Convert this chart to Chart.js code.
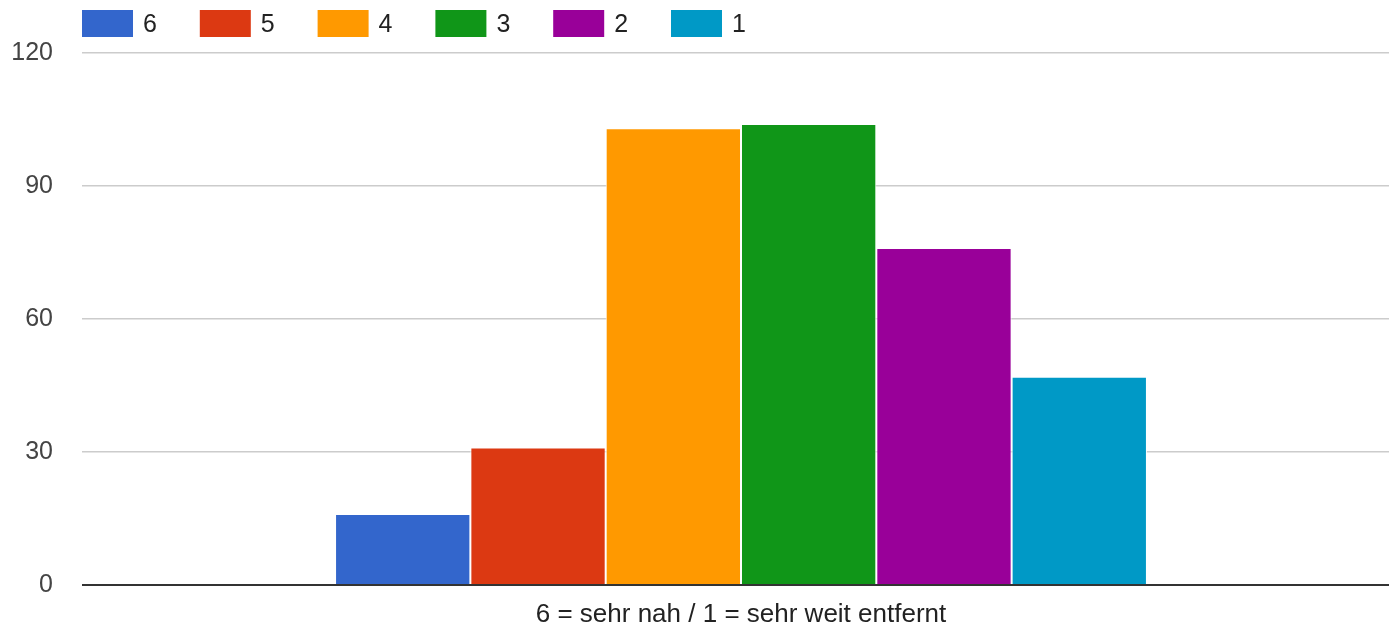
<!DOCTYPE html>
<html>
<head>
<meta charset="utf-8">
<script src="https://cdn.jsdelivr.net/npm/chart.js@4.4.0/dist/chart.umd.min.js"></script>
<style>
html,body{margin:0;padding:0;background:#fff;overflow:hidden;}
#wrap{width:1400px;height:629px;position:relative;}
</style>
</head>
<body>
<div id="wrap"><canvas id="c"></canvas></div>
<script>
const categories = ["6 = sehr nah / 1 = sehr weit entfernt"];
const seriesLabels = ["6", "5", "4", "3", "2", "1"];
const seriesValues = [16, 31, 103, 104, 76, 47];
const seriesColors = ["#3366cc", "#dc3912", "#ff9900", "#109618", "#990099", "#0099c6"];
const yTicks = [0, 30, 60, 90, 120];

const FONT = "'Liberation Sans', Arial, sans-serif";

const legendPlugin = {
  id: 'gLegend',
  afterDraw(chart) {
    const ctx = chart.ctx;
    const left = chart.chartArea.left;
    ctx.save();
    ctx.font = "25px " + FONT;
    ctx.textBaseline = 'middle';
    ctx.textAlign = 'left';
    chart.data.datasets.forEach((ds, i) => {
      const x = left + i * 117.8;
      ctx.fillStyle = ds.backgroundColor;
      ctx.fillRect(x, 10, 51, 27);
      ctx.fillStyle = '#222';
      ctx.fillText(ds.label, x + 61, 25);
    });
    ctx.restore();
  }
};

new Chart(document.getElementById('c'), {
  type: 'bar',
  data: {
    labels: categories,
    datasets: seriesLabels.map((l, i) => ({
      label: l,
      data: [seriesValues[i]],
      backgroundColor: seriesColors[i],
      borderColor: '#ffffff',
      borderWidth: 1,
      categoryPercentage: 0.616,
      barPercentage: 1
    }))
  },
  options: {
    responsive: true,
    maintainAspectRatio: false,
    animation: false,
    layout: { padding: { top: 53, right: 0, left: 0, bottom: 0 } },
    plugins: { legend: { display: false }, tooltip: { enabled: false } },
    scales: {
      x: {
        afterFit(scale) { scale.height = 42; },
        grid: { display: false, drawTicks: false },
        border: { display: false },
        ticks: { color: '#222', font: { family: FONT, size: 26 }, padding: 14 }
      },
      y: {
        min: 0, max: 120,
        afterFit(scale) { scale.width = 82; },
        afterBuildTicks(scale) { scale.ticks = yTicks.map(v => ({ value: v })); },
        grid: {
          color: ctx => ctx.tick && ctx.tick.value === 0 ? '#333333' : '#cccccc',
          lineWidth: ctx => ctx.tick && ctx.tick.value === 0 ? 2 : 1.5,
          drawTicks: false
        },
        border: { display: false },
        ticks: { color: '#444', font: { family: FONT, size: 25 }, padding: 29 }
      }
    }
  },
  plugins: [legendPlugin]
});
</script>
</body>
</html>
